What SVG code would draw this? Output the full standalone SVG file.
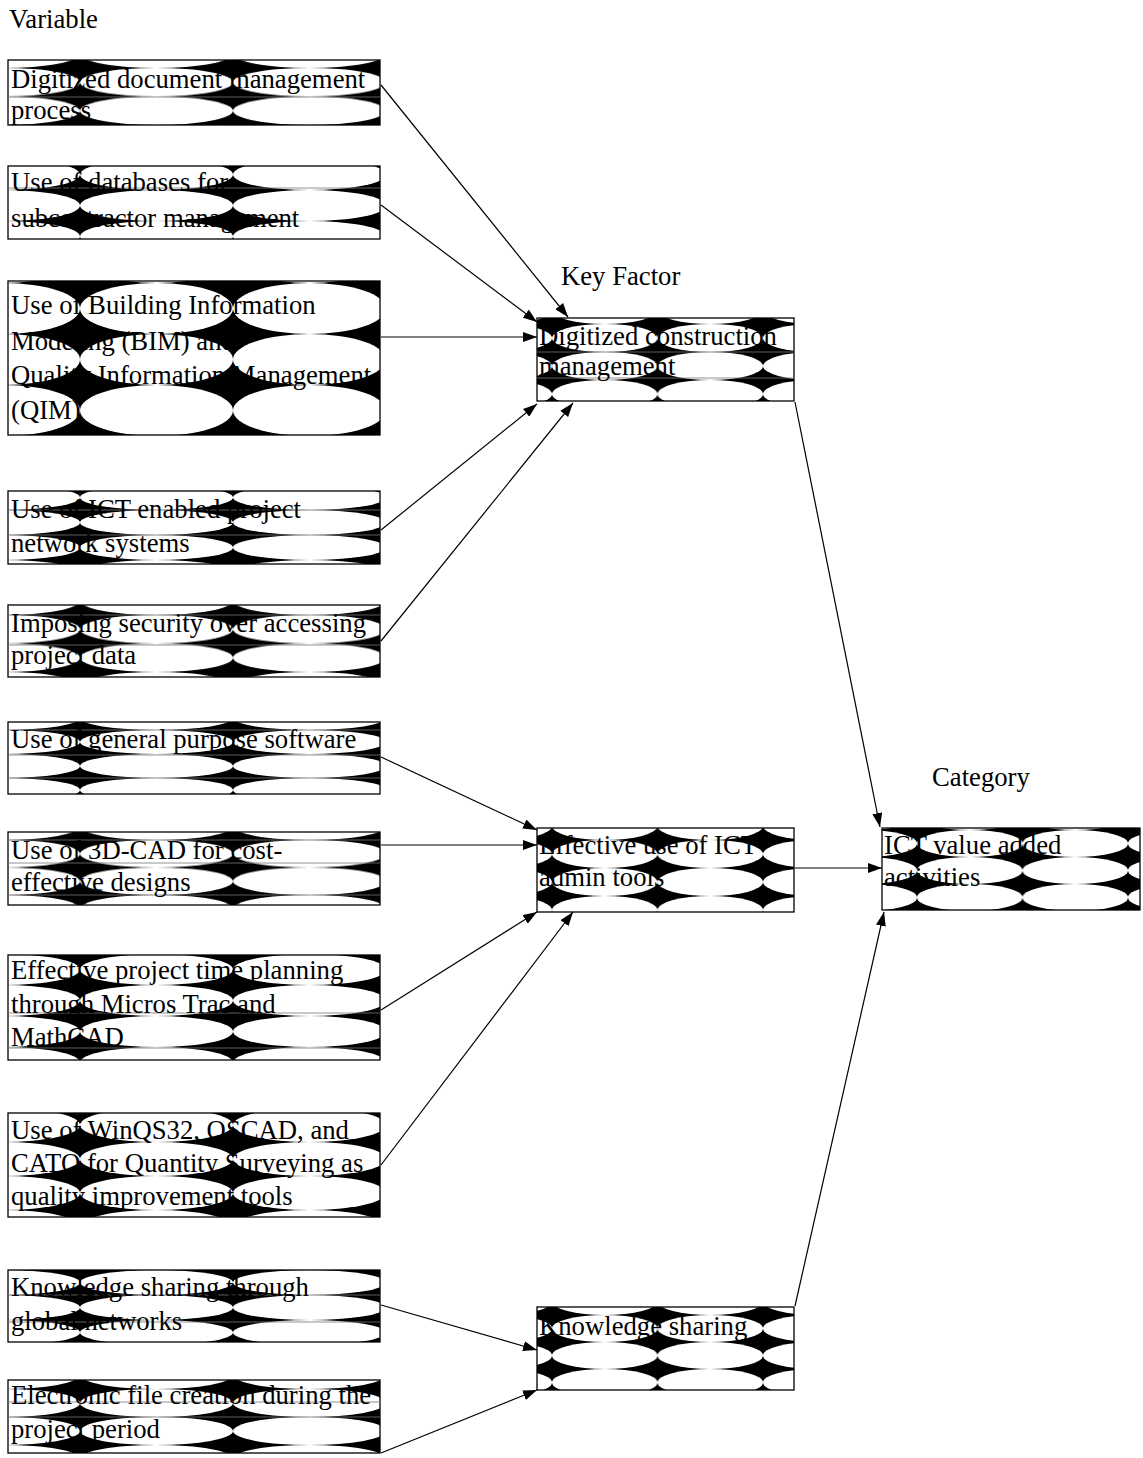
<svg xmlns="http://www.w3.org/2000/svg" width="1143" height="1458" viewBox="0 0 1143 1458">
<style>
text{font-family:"Liberation Serif","Times New Roman",serif;font-size:26.7px;fill:#000}
.box{stroke:#000;stroke-width:1.3}
.hl{stroke:#777;stroke-width:0.8}
.con{stroke:#000;stroke-width:1.2;fill:none;marker-end:url(#ah)}
</style>
<defs>
<marker id="ah" markerUnits="userSpaceOnUse" viewBox="0 0 14 10" refX="14" refY="5" markerWidth="14" markerHeight="10" orient="auto"><path d="M0,0 L14,5 L0,10 z" fill="#000"/></marker>
<pattern id="p1" patternUnits="userSpaceOnUse" x="80" y="68" width="153" height="28.5"><rect width="153" height="28.5" fill="#000"/><ellipse cx="76.5" cy="14.25" rx="76.5" ry="14.25" fill="#fff"/></pattern>
<pattern id="p2" patternUnits="userSpaceOnUse" x="80" y="190" width="153" height="31"><rect width="153" height="31" fill="#000"/><ellipse cx="76.5" cy="15.5" rx="76.5" ry="15.5" fill="#fff"/></pattern>
<pattern id="p3" patternUnits="userSpaceOnUse" x="80" y="283" width="153" height="51"><rect width="153" height="51" fill="#000"/><ellipse cx="76.5" cy="25.5" rx="76.5" ry="25.5" fill="#fff"/></pattern>
<pattern id="p4" patternUnits="userSpaceOnUse" x="80" y="510" width="153" height="25"><rect width="153" height="25" fill="#000"/><ellipse cx="76.5" cy="12.5" rx="76.5" ry="12.5" fill="#fff"/></pattern>
<pattern id="p5" patternUnits="userSpaceOnUse" x="80" y="615" width="153" height="28.5"><rect width="153" height="28.5" fill="#000"/><ellipse cx="76.5" cy="14.25" rx="76.5" ry="14.25" fill="#fff"/></pattern>
<pattern id="p6" patternUnits="userSpaceOnUse" x="80" y="730" width="153" height="24"><rect width="153" height="24" fill="#000"/><ellipse cx="76.5" cy="12" rx="76.5" ry="12" fill="#fff"/></pattern>
<pattern id="p7" patternUnits="userSpaceOnUse" x="80" y="840" width="153" height="27.5"><rect width="153" height="27.5" fill="#000"/><ellipse cx="76.5" cy="13.75" rx="76.5" ry="13.75" fill="#fff"/></pattern>
<pattern id="p8" patternUnits="userSpaceOnUse" x="80" y="985" width="153" height="31"><rect width="153" height="31" fill="#000"/><ellipse cx="76.5" cy="15.5" rx="76.5" ry="15.5" fill="#fff"/></pattern>
<pattern id="p9" patternUnits="userSpaceOnUse" x="80" y="1142" width="153" height="34"><rect width="153" height="34" fill="#000"/><ellipse cx="76.5" cy="17" rx="76.5" ry="17" fill="#fff"/></pattern>
<pattern id="p10" patternUnits="userSpaceOnUse" x="80" y="1295" width="153" height="25"><rect width="153" height="25" fill="#000"/><ellipse cx="76.5" cy="12.5" rx="76.5" ry="12.5" fill="#fff"/></pattern>
<pattern id="p11" patternUnits="userSpaceOnUse" x="80" y="1389" width="153" height="28"><rect width="153" height="28" fill="#000"/><ellipse cx="76.5" cy="14" rx="76.5" ry="14" fill="#fff"/></pattern>
<pattern id="k1" patternUnits="userSpaceOnUse" x="552" y="352" width="105.5" height="28"><rect width="105.5" height="28" fill="#000"/><ellipse cx="52.75" cy="14" rx="52.75" ry="14" fill="#fff"/></pattern>
<pattern id="k2" patternUnits="userSpaceOnUse" x="552" y="840" width="105.5" height="28"><rect width="105.5" height="28" fill="#000"/><ellipse cx="52.75" cy="14" rx="52.75" ry="14" fill="#fff"/></pattern>
<pattern id="k3" patternUnits="userSpaceOnUse" x="552" y="1315" width="105.5" height="27"><rect width="105.5" height="27" fill="#000"/><ellipse cx="52.75" cy="13.5" rx="52.75" ry="13.5" fill="#fff"/></pattern>
<pattern id="c1" patternUnits="userSpaceOnUse" x="917" y="857" width="105.5" height="27"><rect width="105.5" height="27" fill="#000"/><ellipse cx="52.75" cy="13.5" rx="52.75" ry="13.5" fill="#fff"/></pattern>
</defs>
<rect width="1143" height="1458" fill="#fff"/>

<g id="headers">
<text x="9" y="28">Variable</text>
<text x="561" y="285">Key Factor</text>
<text x="932" y="786">Category</text>
</g>

<g id="connectors">
<line class="con" x1="381" y1="85" x2="568" y2="317"/>
<line class="con" x1="381" y1="205" x2="537" y2="322"/>
<line class="con" x1="381" y1="337" x2="537" y2="337"/>
<line class="con" x1="381" y1="530" x2="537" y2="404"/>
<line class="con" x1="381" y1="641" x2="573" y2="403"/>
<line class="con" x1="381" y1="757" x2="537" y2="830"/>
<line class="con" x1="381" y1="845" x2="537" y2="845"/>
<line class="con" x1="381" y1="1010" x2="537" y2="912"/>
<line class="con" x1="381" y1="1165" x2="573" y2="912"/>
<line class="con" x1="381" y1="1305" x2="537" y2="1350"/>
<line class="con" x1="381" y1="1453" x2="537" y2="1390"/>
<line class="con" x1="795" y1="402" x2="880" y2="827"/>
<line class="con" x1="795" y1="868" x2="882" y2="868"/>
<line class="con" x1="795" y1="1306" x2="884" y2="912"/>
</g>

<g id="v1">
<rect class="box" x="8" y="60" width="372" height="65" fill="url(#p1)"/>
<line class="hl" x1="8" y1="97" x2="380" y2="97"/>
<text x="11" y="88">Digitized document management</text>
<text x="11" y="119">process</text>
</g>
<g id="v2">
<rect class="box" x="8" y="166" width="372" height="73" fill="url(#p2)"/>
<line class="hl" x1="8" y1="188" x2="380" y2="188"/>
<text x="11" y="191">Use of databases for</text>
<text x="11" y="227">subcontractor management</text>
</g>
<g id="v3">
<rect class="box" x="8" y="281" width="372" height="154" fill="url(#p3)"/>
<text x="11" y="314">Use of Building Information</text>
<text x="11" y="350">Modeling (BIM) and</text>
<text x="11" y="384">Quality Information Management</text>
<text x="11" y="419">(QIM)</text>
</g>
<g id="v4">
<rect class="box" x="8" y="491" width="372" height="73" fill="url(#p4)"/>
<line class="hl" x1="8" y1="510" x2="380" y2="510"/>
<line class="hl" x1="8" y1="535" x2="380" y2="535"/>
<text x="11" y="518">Use of ICT enabled project</text>
<text x="11" y="552">network systems</text>
</g>
<g id="v5">
<rect class="box" x="8" y="605" width="372" height="72" fill="url(#p5)"/>
<line class="hl" x1="8" y1="615" x2="380" y2="615"/>
<line class="hl" x1="8" y1="645" x2="380" y2="645"/>
<text x="11" y="632">Imposing security over accessing</text>
<text x="11" y="664">project data</text>
</g>
<g id="v6">
<rect class="box" x="8" y="722" width="372" height="72" fill="url(#p6)"/>
<line class="hl" x1="8" y1="730" x2="380" y2="730"/>
<line class="hl" x1="8" y1="755" x2="380" y2="755"/>
<line class="hl" x1="8" y1="778" x2="380" y2="778"/>
<text x="11" y="748">Use of general purpose software</text>
</g>
<g id="v7">
<rect class="box" x="8" y="832" width="372" height="73" fill="url(#p7)"/>
<line class="hl" x1="8" y1="840" x2="380" y2="840"/>
<line class="hl" x1="8" y1="863" x2="380" y2="863"/>
<line class="hl" x1="8" y1="895" x2="380" y2="895"/>
<text x="11" y="859">Use of 3D-CAD for cost-</text>
<text x="11" y="891">effective designs</text>
</g>
<g id="v8">
<rect class="box" x="8" y="955" width="372" height="105" fill="url(#p8)"/>
<line class="hl" x1="8" y1="1013" x2="380" y2="1013"/>
<line class="hl" x1="8" y1="1048" x2="380" y2="1048"/>
<text x="11" y="979">Effective project time planning</text>
<text x="11" y="1013">through Micros Trac and</text>
<text x="11" y="1046">MathCAD</text>
</g>
<g id="v9">
<rect class="box" x="8" y="1113" width="372" height="104" fill="url(#p9)"/>
<text x="11" y="1139">Use of WinQS32, QSCAD, and</text>
<text x="11" y="1172">CATO for Quantity Surveying as</text>
<text x="11" y="1205">quality improvement tools</text>
</g>
<g id="v10">
<rect class="box" x="8" y="1270" width="372" height="72" fill="url(#p10)"/>
<line class="hl" x1="8" y1="1295" x2="380" y2="1295"/>
<line class="hl" x1="8" y1="1322" x2="380" y2="1322"/>
<text x="11" y="1296">Knowledge sharing through</text>
<text x="11" y="1330">global networks</text>
</g>
<g id="v11">
<rect class="box" x="8" y="1380" width="372" height="73" fill="url(#p11)"/>
<line class="hl" x1="8" y1="1402" x2="380" y2="1402"/>
<line class="hl" x1="8" y1="1417" x2="380" y2="1417"/>
<text x="11" y="1404">Electronic file creation during the</text>
<text x="11" y="1438">project period</text>
</g>

<g id="k_digitized">
<rect class="box" x="537" y="318" width="257" height="83" fill="url(#k1)"/>
<line class="hl" x1="537" y1="352" x2="794" y2="352"/>
<line class="hl" x1="537" y1="378" x2="794" y2="378"/>
<text x="539" y="345">Digitized construction</text>
<text x="539" y="375">management</text>
</g>
<g id="k_admin">
<rect class="box" x="537" y="828" width="257" height="84" fill="url(#k2)"/>
<text x="539" y="854">Effective use of ICT</text>
<text x="539" y="886">admin tools</text>
</g>
<g id="k_knowledge">
<rect class="box" x="537" y="1307" width="257" height="83" fill="url(#k3)"/>
<text x="539" y="1335">Knowledge sharing</text>
</g>
<g id="c_ict">
<rect class="box" x="882" y="828" width="258" height="82" fill="url(#c1)"/>
<text x="884" y="854">ICT value added</text>
<text x="884" y="886">activities</text>
</g>
</svg>
